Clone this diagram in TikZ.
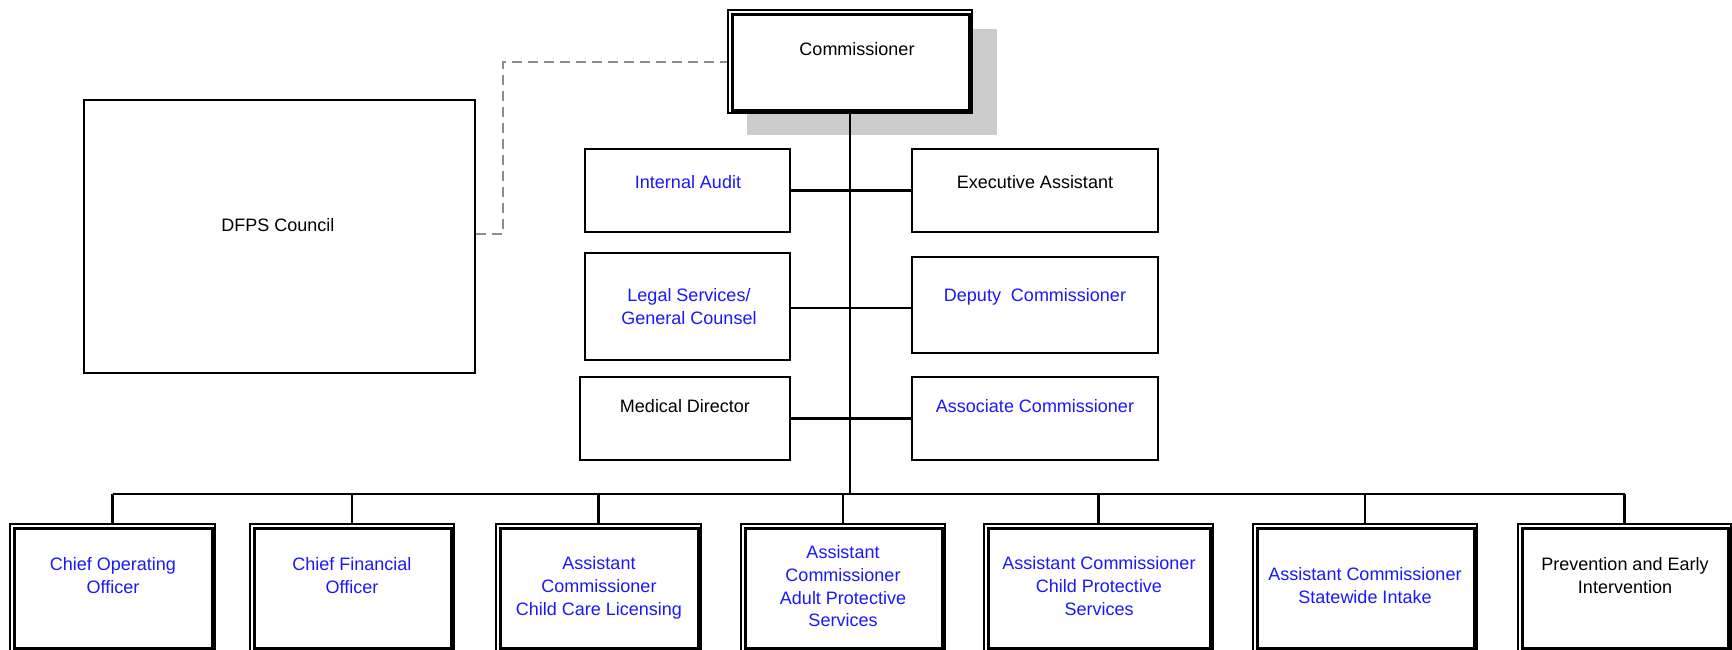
\documentclass[tikz,border=0pt]{standalone}
\usepackage{fontspec}
\setmainfont{Liberation Sans}
\definecolor{txtblue}{RGB}{25,25,250}
\definecolor{shadowgray}{RGB}{204,204,204}
\definecolor{dashgray}{RGB}{140,140,140}
\begin{document}
\begin{tikzpicture}[x=1pt,y=-1pt,
  box/.style={draw=black, line width=2pt, fill=white, inner sep=0pt},
  dbox/.style={draw=black, line width=1.3pt, fill=white, inner sep=0pt},
  innerline/.style={draw=black, line width=3pt},
  lbl/.style={anchor=north, inner sep=0pt, align=center, font=\fontsize{18}{22.7}\selectfont},
  bl/.style={lbl, text=txtblue},
  conn/.style={draw=black, line width=2.2pt},
  dashline/.style={draw=dashgray, line width=2pt, dash pattern=on 10pt off 6pt}]
\useasboundingbox (0,0) rectangle (1732,650);
\fill[white] (0,0) rectangle (1732,650);

% shadow + commissioner
\fill[shadowgray] (747,29) rectangle (997,135);
\node[dbox, minimum width=244pt, minimum height=103pt] (comm) at (850,61.5) {};

% DFPS council
\node[box, minimum width=391pt, minimum height=273pt] (dfps) at (279.5,236.5) {};

% side boxes
\node[box, minimum width=205pt, minimum height=83pt] (ia) at (687.5,190.5) {};
\node[box, minimum width=246pt, minimum height=83pt] (ea) at (1035,190.5) {};
\node[box, minimum width=205pt, minimum height=107pt] (lg) at (687.5,306.5) {};
\node[box, minimum width=246pt, minimum height=96pt] (dc) at (1035,305) {};
\node[box, minimum width=210pt, minimum height=83pt] (md) at (685,418.5) {};
\node[box, minimum width=246pt, minimum height=83pt] (ac) at (1035,418.5) {};

% bottom boxes
\node[dbox, minimum width=205pt, minimum height=127pt] (b1) at (112.5,587.5) {};
\node[dbox, minimum width=204pt, minimum height=127pt] (b2) at (352,587.5) {};
\node[dbox, minimum width=205pt, minimum height=127pt] (b3) at (598.5,587.5) {};
\node[dbox, minimum width=204pt, minimum height=127pt] (b4) at (843,587.5) {};
\node[dbox, minimum width=229pt, minimum height=127pt] (b5) at (1098.5,587.5) {};
\node[dbox, minimum width=224pt, minimum height=127pt] (b6) at (1365,587.5) {};
\node[dbox, minimum width=213pt, minimum height=127pt] (b7) at (1624.5,587.5) {};

% inner thick frames of double boxes
\foreach \n in {comm,b1,b2,b3,b4,b5,b6,b7}
  \draw[innerline] ([xshift=5pt,yshift=-5pt]\n.north west) rectangle ([xshift=-3pt,yshift=3pt]\n.south east);

% connectors
\coordinate (hub) at (850,494);
\draw[conn] (comm.south) -- (comm.south |- hub);
\draw[conn] (b1.north |- hub) -- (b7.north |- hub);
\foreach \n in {b1,b2,b3,b4,b5,b6,b7}
  \draw[conn] (\n.north |- hub) -- (\n.north);
\draw[conn] (ia.east) -- (ea.west);
\draw[conn] ([yshift=-1.5pt]lg.east) -- ([yshift=-1.5pt]lg.east -| dc.west);
\draw[conn] (md.east) -- (md.east -| ac.west);

% dashed link council - commissioner
\coordinate (d1) at (503,234);
\coordinate (d2) at (503,62);
\draw[dashline] (dfps.east |- d1) -- (d1) -- (d2) -- (d2 -| comm.west);

% texts
\node[lbl] (tcomm) at (857,42) {Commissioner};
\node[lbl] (tdfps) at (278,218.5) {DFPS Council};
\node[bl] (tia) at (688,175.5) {Internal Audit};
\node[lbl] (tea) at (1035,175.5) {Executive Assistant};
\node[bl] (tlg) at (689,288.5) {Legal Services/\\General Counsel};
\node[bl] (tdc) at (1035,288.5) {Deputy\ \ Commissioner};
\node[lbl] (tmd) at (685,399.5) {Medical Director};
\node[bl] (tac) at (1035,399.5) {Associate Commissioner};

\node[bl] (tb1) at (113,557.5) {Chief Operating\\Officer};
\node[bl] (tb2) at (352,557.5) {Chief Financial\\Officer};
\node[bl] (tb3) at (599,556.5) {Assistant\\Commissioner\\Child Care Licensing};
\node[bl] (tb4) at (843,545.5) {Assistant\\Commissioner\\Adult Protective\\Services};
\node[bl] (tb5) at (1099,556.5) {Assistant Commissioner\\Child Protective\\Services};
\node[bl] (tb6) at (1365,567.5) {Assistant Commissioner\\Statewide Intake};
\node[lbl] (tb7) at (1625,557.5) {Prevention and Early\\Intervention};
\end{tikzpicture}
\end{document}
